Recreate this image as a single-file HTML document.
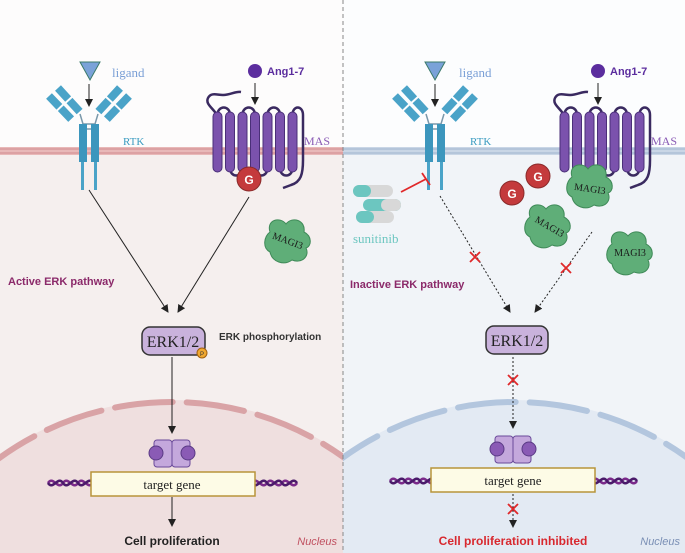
<!DOCTYPE html>
<html><head><meta charset="utf-8"><style>
html,body{margin:0;padding:0;background:#fff;overflow:hidden}
svg{display:block}
text{font-family:"Liberation Sans",sans-serif}
.serif{font-family:"Liberation Serif",serif}
</style></head><body>
<svg width="685" height="553" viewBox="0 0 685 553" xmlns="http://www.w3.org/2000/svg">
<defs>
<marker id="ah" markerWidth="8" markerHeight="8" refX="7" refY="4" orient="auto" markerUnits="userSpaceOnUse"><path d="M0,0 L8,4 L0,8 Z" fill="#222"/></marker>
<g id="rtk">
  <g stroke="#4aa3c8" stroke-width="8" stroke-dasharray="15 2" fill="none">
    <line x1="-40" y1="-6" x2="-17" y2="18"/>
    <line x1="-31" y1="-14" x2="-9" y2="10"/>
    <line x1="40" y1="-6" x2="17" y2="18"/>
    <line x1="31" y1="-14" x2="9" y2="10"/>
  </g>
  <path d="M-9,12 L-6,22 L6,22 L9,12 M-6,27 L6,27" stroke="#7a98aa" stroke-width="1.5" fill="none"/>
  <rect x="-10" y="22" width="8" height="38" fill="#3c96bd"/>
  <rect x="2" y="22" width="8" height="38" fill="#3c96bd"/>
  <rect x="-8" y="60" width="3" height="28" fill="#4aa3c8"/>
  <rect x="5" y="60" width="3" height="28" fill="#4aa3c8"/>
</g>
<g id="mas">
  <path d="M4,25 C0,18 -8,14 -5,8 C-2,2 4,5 10,5 C18,5 22,1 28,2" stroke="#3a2a60" stroke-width="2.5" fill="none"/>
  <g stroke="#3a2a60" stroke-width="2.5" fill="none">
    <path d="M4.5,25 C4.5,15 17,15 17,25"/>
    <path d="M29.5,25 C29.5,15 42,15 42,25"/>
    <path d="M54.5,25 C54.5,15 67,15 67,25"/>
    <path d="M17,78 C17,88 29.5,88 29.5,78"/>
    <path d="M42,78 C42,88 54.5,88 54.5,78"/>
    <path d="M67,78 C67,88 79.5,88 79.5,78"/>
    <path d="M79.5,25 C79.5,15 90,15 90,25 L90,70 C90,84 88,92 78,95 L70,98"/>
  </g>
  <g fill="#7b52ad" stroke="#4a2f78" stroke-width="1">
    <rect x="0" y="22" width="9" height="60" rx="4.5"/>
    <rect x="12.5" y="22" width="9" height="60" rx="4.5"/>
    <rect x="25" y="22" width="9" height="60" rx="4.5"/>
    <rect x="37.5" y="22" width="9" height="60" rx="4.5"/>
    <rect x="50" y="22" width="9" height="60" rx="4.5"/>
    <rect x="62.5" y="22" width="9" height="60" rx="4.5"/>
    <rect x="75" y="22" width="9" height="60" rx="4.5"/>
  </g>
</g>
<g id="tf">
  <rect x="-18" y="0" width="18" height="27" rx="3" fill="#c4a8dc" stroke="#6a4a9a"/>
  <rect x="0" y="0" width="18" height="27" rx="3" fill="#c4a8dc" stroke="#6a4a9a"/>
  <circle cx="-16" cy="13" r="7" fill="#8a5bb5" stroke="#5a3a85"/>
  <circle cx="16" cy="13" r="7" fill="#8a5bb5" stroke="#5a3a85"/>
</g>
<g id="dna" fill="none" stroke-width="2.5">
  <path d="M0,0 C5,-8 10,8 15,0 C20,-8 25,8 30,0 C35,-8 40,8 45,0" stroke="#7a2a8a"/>
  <path d="M0,0 C5,8 10,-8 15,0 C20,8 25,-8 30,0 C35,8 40,-8 45,0" stroke="#4a1a6a"/>
</g>
<g id="magi">
  <path d="M-18,-8 C-22,-20 -8,-24 -2,-16 C4,-24 18,-20 16,-8 C24,-4 24,6 18,8 C22,16 14,24 4,20 C-4,26 -16,22 -18,12 C-26,8 -24,-4 -18,-8 Z" fill="#5fae78" stroke="#3f8a58"/>
</g>
<g id="x"><path d="M-5,-5 L5,5 M5,-5 L-5,5" stroke="#e0282a" stroke-width="1.8"/></g>
</defs>

<rect x="0" y="0" width="343" height="553" fill="#f5efee"/>
<rect x="343" y="0" width="342" height="553" fill="#f1f4f8"/>
<rect x="0" y="0" width="343" height="150" fill="#fdfcfc"/>
<rect x="343" y="0" width="342" height="150" fill="#fcfdfe"/>
<clipPath id="cl"><rect x="0" y="0" width="343" height="553"/></clipPath>
<clipPath id="cr"><rect x="343" y="0" width="342" height="553"/></clipPath>
<circle cx="172" cy="696" r="296" fill="#efdfdf" clip-path="url(#cl)"/>
<circle cx="515" cy="696" r="296" fill="#e3eaf3" clip-path="url(#cr)"/>
<circle cx="172" cy="696" r="294" fill="none" stroke="#d9a3a6" stroke-width="6" stroke-linecap="round" stroke-dasharray="58 14" stroke-dashoffset="40" clip-path="url(#cl)"/>
<circle cx="515" cy="696" r="294" fill="none" stroke="#b3c6de" stroke-width="6" stroke-linecap="round" stroke-dasharray="58 14" stroke-dashoffset="40" clip-path="url(#cr)"/>

<rect x="0" y="147" width="343" height="8" fill="#e8b8b8"/>
<line x1="0" y1="149" x2="343" y2="149" stroke="#d08a8e"/><line x1="0" y1="153" x2="343" y2="153" stroke="#d08a8e"/>
<rect x="343" y="147" width="342" height="8" fill="#c9d6e6"/>
<line x1="343" y1="149" x2="685" y2="149" stroke="#9fb4cf"/><line x1="343" y1="153" x2="685" y2="153" stroke="#9fb4cf"/>
<line x1="343" y1="0" x2="343" y2="553" stroke="#888" stroke-dasharray="4 3"/>

<!-- LEFT -->
<path d="M80,62 L100,62 L90,80 Z" fill="#7aa2d8" stroke="#3a7a6a"/>
<text x="112" y="77" class="serif" font-size="13" fill="#7a9fd6">ligand</text>
<line x1="89" y1="84" x2="89" y2="106" stroke="#222" marker-end="url(#ah)"/>
<use href="#rtk" x="89" y="102"/>
<text x="123" y="145" class="serif" font-size="11" fill="#3a9bc0">RTK</text>
<circle cx="255" cy="71" r="7" fill="#5b2d9e"/>
<text x="267" y="75" font-size="11" font-weight="bold" fill="#5b2d9e">Ang1-7</text>
<line x1="255" y1="83" x2="255" y2="104" stroke="#222" marker-end="url(#ah)"/>
<use href="#mas" x="213" y="90"/>
<text x="304" y="145" class="serif" font-size="12" fill="#8a5bb5">MAS</text>
<circle cx="249" cy="179" r="12" fill="#c43a3c" stroke="#8a2a2a"/>
<text x="249" y="184" text-anchor="middle" font-size="12" font-weight="bold" fill="#fff">G</text>
<use href="#magi" x="288" y="240"/>
<text x="288" y="244" class="serif" font-size="10" fill="#1a1a1a" text-anchor="middle" transform="rotate(20 288 240)">MAGI3</text>
<line x1="89" y1="190" x2="168" y2="312" stroke="#222" marker-end="url(#ah)"/>
<line x1="249" y1="197" x2="178" y2="312" stroke="#222" marker-end="url(#ah)"/>
<text x="8" y="285" font-size="11" font-weight="bold" fill="#8b2a6a">Active ERK pathway</text>
<rect x="142" y="327" width="63" height="28" rx="8" fill="#c9b2dc" stroke="#333" stroke-width="1.5"/>
<text x="173" y="347" class="serif" font-size="16" text-anchor="middle" fill="#222">ERK1/2</text>
<circle cx="202" cy="353" r="5" fill="#f0a830" stroke="#a06010"/>
<text x="202" y="356" font-size="6" text-anchor="middle" fill="#333">P</text>
<text x="219" y="340" font-size="10" font-weight="bold" fill="#333">ERK phosphorylation</text>
<line x1="172" y1="357" x2="172" y2="433" stroke="#222" marker-end="url(#ah)"/>
<use href="#tf" x="172" y="440"/>
<use href="#dna" x="48" y="483"/><use href="#dna" x="252" y="483"/>
<rect x="91" y="472" width="164" height="24" fill="#fdfbe6" stroke="#b8943a" stroke-width="1.5"/>
<text x="172" y="489" class="serif" font-size="13" text-anchor="middle" fill="#222">target gene</text>
<line x1="172" y1="497" x2="172" y2="526" stroke="#222" marker-end="url(#ah)"/>
<text x="172" y="545" font-size="12" font-weight="bold" text-anchor="middle" fill="#222">Cell proliferation</text>
<text x="337" y="545" font-size="11" font-style="italic" text-anchor="end" fill="#c05060">Nucleus</text>

<!-- RIGHT -->
<path d="M425,62 L445,62 L435,80 Z" fill="#7aa2d8" stroke="#3a7a6a"/>
<text x="459" y="77" class="serif" font-size="13" fill="#7a9fd6">ligand</text>
<line x1="435" y1="84" x2="435" y2="106" stroke="#222" marker-end="url(#ah)"/>
<use href="#rtk" x="435" y="102"/>
<text x="470" y="145" class="serif" font-size="11" fill="#3a9bc0">RTK</text>
<circle cx="598" cy="71" r="7" fill="#5b2d9e"/>
<text x="610" y="75" font-size="11" font-weight="bold" fill="#5b2d9e">Ang1-7</text>
<line x1="598" y1="83" x2="598" y2="104" stroke="#222" marker-end="url(#ah)"/>
<use href="#mas" x="560" y="90"/>
<text x="651" y="145" class="serif" font-size="12" fill="#8a5bb5">MAS</text>
<g>
  <rect x="353" y="185" width="40" height="12" rx="6" fill="#d8d8d8"/><rect x="353" y="185" width="18" height="12" rx="6" fill="#6cc6c0"/>
  <rect x="363" y="199" width="38" height="12" rx="6" fill="#6cc6c0"/><rect x="381" y="199" width="20" height="12" rx="6" fill="#d8d8d8"/>
  <rect x="356" y="211" width="38" height="12" rx="6" fill="#d8d8d8"/><rect x="356" y="211" width="18" height="12" rx="6" fill="#6cc6c0"/>
</g>
<text x="353" y="243" class="serif" font-size="13" fill="#6cc6c0">sunitinib</text>
<line x1="401" y1="192" x2="426" y2="179" stroke="#e0282a" stroke-width="1.8"/>
<line x1="422" y1="173" x2="430" y2="185" stroke="#e0282a" stroke-width="1.8"/>
<circle cx="512" cy="193" r="12" fill="#c43a3c" stroke="#8a2a2a"/>
<text x="512" y="198" text-anchor="middle" font-size="12" font-weight="bold" fill="#fff">G</text>
<circle cx="538" cy="176" r="12" fill="#c43a3c" stroke="#8a2a2a"/>
<text x="538" y="181" text-anchor="middle" font-size="12" font-weight="bold" fill="#fff">G</text>
<use href="#magi" x="548" y="225"/>
<text x="550" y="230" class="serif" font-size="10" fill="#1a1a1a" text-anchor="middle" transform="rotate(30 550 226)">MAGI3</text>
<use href="#magi" x="590" y="185"/>
<text x="590" y="192" class="serif" font-size="10" fill="#1a1a1a" text-anchor="middle" transform="rotate(8 590 188)">MAGI3</text>
<use href="#magi" x="630" y="252"/>
<text x="630" y="256" class="serif" font-size="10" fill="#1a1a1a" text-anchor="middle">MAGI3</text>
<line x1="440" y1="196" x2="510" y2="312" stroke="#222" stroke-dasharray="2 2" marker-end="url(#ah)"/>
<use href="#x" x="475" y="257"/>
<line x1="592" y1="232" x2="535" y2="312" stroke="#222" stroke-dasharray="2 2" marker-end="url(#ah)"/>
<use href="#x" x="566" y="268"/>
<text x="350" y="288" font-size="11" font-weight="bold" fill="#8b2a6a">Inactive ERK pathway</text>
<rect x="486" y="326" width="62" height="28" rx="8" fill="#c9b2dc" stroke="#333" stroke-width="1.5"/>
<text x="517" y="346" class="serif" font-size="16" text-anchor="middle" fill="#222">ERK1/2</text>
<line x1="513" y1="357" x2="513" y2="428" stroke="#222" stroke-dasharray="2 2" marker-end="url(#ah)"/>
<use href="#x" x="513" y="380"/>
<use href="#tf" x="513" y="436"/>
<use href="#dna" x="390" y="481"/><use href="#dna" x="592" y="481"/>
<rect x="431" y="468" width="164" height="24" fill="#fdfbe6" stroke="#b8943a" stroke-width="1.5"/>
<text x="513" y="485" class="serif" font-size="13" text-anchor="middle" fill="#222">target gene</text>
<line x1="513" y1="494" x2="513" y2="527" stroke="#222" stroke-dasharray="2 2" marker-end="url(#ah)"/>
<use href="#x" x="513" y="509"/>
<text x="513" y="545" font-size="12" font-weight="bold" text-anchor="middle" fill="#d8282e">Cell proliferation inhibited</text>
<text x="680" y="545" font-size="11" font-style="italic" text-anchor="end" fill="#7a8fb5">Nucleus</text>
</svg>
</body></html>
